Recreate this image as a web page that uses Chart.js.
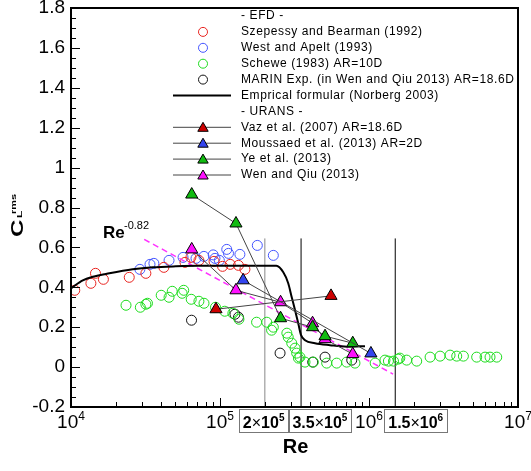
<!DOCTYPE html>
<html>
<head>
<meta charset="utf-8">
<script src="https://cdn.jsdelivr.net/npm/chart.js@4.4.0/dist/chart.umd.min.js"></script>
<style>
  html, body { margin: 0; padding: 0; background: #fff; }
  canvas { display: block; }
</style>
</head>
<body>
<canvas id="cl" width="531" height="471"></canvas>
<script>
// --- EFD ---
const szepessy = [[1.06e4,0.385],[1.36e4,0.42],[1.46e4,0.47],[1.65e4,0.44],[2.46e4,0.45],[3.18e4,0.47],
  [4.2e4,0.50],[5.82e4,0.525],[6.38e4,0.55],[7.22e4,0.535],[9.12e4,0.53],[1.04e5,0.505],[1.17e5,0.515],
  [1.33e5,0.51],[1.47e5,0.49]];
const westApelt = [[2.9e4,0.49],[3.39e4,0.515],[3.6e4,0.52],[4.55e4,0.535],[5.65e4,0.55],[6.9e4,0.545],
  [7.8e4,0.555],[9.0e4,0.5625],[9.25e4,0.545],[9.9e4,0.535],[1.11e5,0.59],[1.14e5,0.57],[1.36e5,0.565],
  [1.78e5,0.61],[2.28e5,0.56]];
const schewe = [[2.34e4,0.31],[2.92e4,0.30],[3.18e4,0.315],[3.26e4,0.32],[4.03e4,0.36],[4.55e4,0.35],
  [4.78e4,0.38],[5.57e4,0.37],[5.71e4,0.385],[6.41e4,0.34],[7.22e4,0.33],[7.81e4,0.32],[9.33e4,0.30],
  [1.076e5,0.28],[1.22e5,0.27],[1.34e5,0.24],[1.76e5,0.225],[2.06e5,0.225],[2.28e5,0.20],[2.22e5,0.185],
  [2.81e5,0.17],[2.87e5,0.15],[3.03e5,0.12],[3.19e5,0.095],[3.27e5,0.07],[3.44e5,0.05],[3.36e5,0.045],
  [3.72e5,0.025],[4.23e5,0.025],[5.2e5,0.02],[6.07e5,0.02],[7.08e5,0.025],[8.05e5,0.02],[1.10e6,0.02],
  [1.28e6,0.035],[1.35e6,0.03],[1.46e6,0.03],[1.57e6,0.04],[1.61e6,0.045],[1.79e6,0.035],[2.09e6,0.03],
  [2.57e6,0.05],[3.0e6,0.055],[3.5e6,0.06],[3.88e6,0.055],[4.3e6,0.055],[5.28e6,0.05],[6.01e6,0.05],
  [6.49e6,0.05],[7.2e6,0.05]];
const marin = [[6.44e4,0.235],[1.26e5,0.265],[1.33e5,0.25],[2.53e5,0.07],[4.19e5,0.025],[5.07e5,0.05],[7.66e5,0.035]];
const norberg = [[1e4,0.395],[1.2e4,0.435],[1.4e4,0.4525],[1.81e4,0.47],[2.59e4,0.49],[3.54e4,0.50],
  [5.06e4,0.505],[7.21e4,0.5075],[1.22e5,0.5075],[2.39e5,0.5075],[2.66e5,0.475],[2.87e5,0.42],[3.03e5,0.35],
  [3.19e5,0.285],[3.35e5,0.22],[3.5e5,0.16],[3.72e5,0.135],[4.34e5,0.12],[5.47e5,0.11],[7.11e5,0.1025],[9.4e5,0.105]];

// --- URANS ---
const vaz = [[9.4e4,0.29],[5.56e5,0.357]];
const moussaed = [[1.43e5,0.435],[1.03e6,0.0685]];
const ye = [[6.46e4,0.865],[1.28e5,0.72],[2.55e5,0.245],[4.18e5,0.20],[5.07e5,0.155],[7.78e5,0.12]];
const wenQiu = [[6.46e4,0.59],[1.28e5,0.385],[2.55e5,0.325],[4.18e5,0.22],[5.07e5,0.14],[7.78e5,0.065]];

// Re^-0.82 guide and the three transition Reynolds numbers
const slopeLine = [[3.1e4,0.64],[1.45e6,-0.035]];
const transitions = [2e5, 3.5e5, 1.5e6];
const transitionTop = 0.645;
const transitionLabels = [['2','5'],['3.5','5'],['1.5','6']];

// axes
const yTicks = [-0.2,0,0.2,0.4,0.6,0.8,1,1.2,1.4,1.6,1.8];
const yTickLabels = ['-0.2','0','0.2','0.4','0.6','0.8','1','1.2','1.4','1.6','1.8'];
const xExponents = [4,5,6,7];

const pts = a => a.map(p => ({x: p[0], y: p[1]}));
const FONT = '"Liberation Sans", Arial, sans-serif';

const circleSet = (label, arr, color) => ({
  label, data: pts(arr), pointStyle: 'circle', pointRadius: 5,
  pointBackgroundColor: 'rgba(0,0,0,0)', pointBorderColor: color, pointBorderWidth: 1,
  borderColor: color, showLine: false, order: 5
});
const triSet = (label, arr, fill) => ({
  label, data: pts(arr), pointStyle: 'triangle', pointRadius: 7,
  pointBackgroundColor: fill, pointBorderColor: '#000', pointBorderWidth: 1,
  borderColor: '#444', borderWidth: 1, showLine: true, order: 1
});
const lineSet = (label, arr, color, width, extra) => Object.assign({
  label, data: pts(arr), showLine: true, pointRadius: 0, borderColor: color,
  borderWidth: width, order: 3
}, extra || {});

const datasets = [
  circleSet('Szepessy and Bearman (1992)', szepessy, '#e8231f'),
  circleSet('West and Apelt (1993)', westApelt, '#4455ff'),
  circleSet('Schewe (1983) AR=10D', schewe, '#1edc1e'),
  circleSet('MARIN Exp. (in Wen and Qiu 2013) AR=18.6D', marin, '#111'),
  lineSet('Emprical formular (Norberg 2003)', norberg, '#000', 2, {cubicInterpolationMode: 'monotone'}),
  triSet('Vaz et al. (2007) AR=18.6D', vaz, '#cc0000'),
  triSet('Moussaed et al. (2013) AR=2D', moussaed, '#3344ee'),
  triSet('Ye et al. (2013)', ye, '#11bb11'),
  triSet('Wen and Qiu (2013)', wenQiu, '#ff11ff'),
  lineSet('Re^-0.82', slopeLine, '#ff33ff', 1.5, {borderDash: [6, 4], order: 4})
];
transitions.forEach((re, i) => {
  datasets.push(lineSet('Re=' + re, [[re, -0.2], [re, transitionTop]], i === 0 ? '#888' : '#000', 1, {order: 6}));
});

// legend rows: headers, then dataset indices
const legendRows = ['- EFD -', 0, 1, 2, 3, 4, '- URANS -', 5, 6, 7, 8];

function triangle(ctx, x, y, r) {
  ctx.beginPath();
  for (let k = 0; k < 3; k++) {
    const a = k * 2 * Math.PI / 3;
    const px = x + Math.sin(a) * r, py = y - Math.cos(a) * r;
    k ? ctx.lineTo(px, py) : ctx.moveTo(px, py);
  }
  ctx.closePath();
}

// draws "m×10^e" (or "10^e" when m is empty) starting at x
function sci(ctx, mant, exp, x, base, size, bold) {
  const w = bold ? 'bold ' : '';
  ctx.textAlign = 'left';
  ctx.textBaseline = 'alphabetic';
  if (mant) {
    ctx.font = w + size + 'px ' + FONT;
    ctx.fillText(mant, x, base); x += ctx.measureText(mant).width;
    ctx.font = size + 'px ' + FONT;
    ctx.fillText('\u00d7', x, base); x += ctx.measureText('\u00d7').width;
  }
  ctx.font = w + size + 'px ' + FONT;
  ctx.fillText('10', x, base); x += ctx.measureText('10').width;
  ctx.font = w + Math.round(size * 0.62) + 'px ' + FONT;
  ctx.fillText(exp, x, base - size * 0.42);
  return x + ctx.measureText(exp).width;
}
function sciWidth(ctx, mant, exp, size, bold) {
  ctx.save(); ctx.globalAlpha = 0;
  const w = sci(ctx, mant, exp, 0, 0, size, bold);
  ctx.restore();
  return w;
}

const decorations = {
  id: 'decorations',
  afterDraw(chart) {
    const {ctx, chartArea: a, scales: {x, y}} = chart;
    ctx.save();
    ctx.fillStyle = '#000';
    ctx.strokeStyle = '#000';

    // frame
    ctx.lineWidth = 2;
    ctx.strokeRect(a.left, a.top, a.right - a.left, a.bottom - a.top);

    // inward ticks
    ctx.lineWidth = 1;
    ctx.beginPath();
    for (let i = 0; i <= 40; i++) {
      const py = Math.round(y.getPixelForValue(-0.2 + i * 0.05)) + 0.5;
      ctx.moveTo(a.left, py); ctx.lineTo(a.left + (i % 4 ? 5 : 9), py);
    }
    for (let e = 4; e < 7; e++) {
      for (let m = 1; m <= 9; m++) {
        const px = Math.round(x.getPixelForValue(m * Math.pow(10, e))) + 0.5;
        ctx.moveTo(px, a.bottom); ctx.lineTo(px, a.bottom - (m === 1 ? 9 : 5));
      }
    }
    ctx.stroke();

    // tick labels
    ctx.font = '19px ' + FONT;
    ctx.textAlign = 'right';
    ctx.textBaseline = 'middle';
    yTicks.forEach((v, i) => ctx.fillText(yTickLabels[i], a.left - 6, y.getPixelForValue(v)));
    xExponents.forEach(e => {
      const px = x.getPixelForValue(Math.pow(10, e));
      const w = sciWidth(ctx, '', String(e), 19, false);
      sci(ctx, '', String(e), px - w / 2, a.bottom + 21, 19, false);
    });

    // transition Re boxes under the axis
    const boxTop = a.bottom + 2, boxH = 23;
    const boxW = transitionLabels.map(t => sciWidth(ctx, t[0], t[1], 16, true) + 8);
    const lefts = [];
    lefts[0] = x.getPixelForValue(transitions[0]) - 26;
    lefts[1] = lefts[0] + boxW[0];
    lefts[2] = x.getPixelForValue(transitions[2]) - 11;
    ctx.strokeStyle = '#777';
    transitionLabels.forEach((t, i) => {
      ctx.strokeRect(Math.round(lefts[i]) + 0.5, boxTop + 0.5, Math.round(boxW[i]), boxH);
      ctx.fillStyle = '#000';
      sci(ctx, t[0], t[1], lefts[i] + 4, boxTop + 19, 16, true);
    });

    // axis titles
    ctx.fillStyle = '#000';
    ctx.font = 'bold 20px ' + FONT;
    ctx.textAlign = 'center';
    ctx.textBaseline = 'alphabetic';
    ctx.fillText('Re', (a.left + a.right) / 2 + 1, 453);

    ctx.save();
    ctx.translate(23, 237);
    ctx.rotate(-Math.PI / 2);
    ctx.scale(1, 0.65);
    ctx.textAlign = 'left';
    ctx.font = 'bold 24px ' + FONT;
    ctx.fillText('C', 0, 0);
    ctx.font = 'bold 12px ' + FONT;
    ctx.fillText('L', 19, -2);
    ctx.font = 'bold 11px ' + FONT;
    ctx.fillText('rms', 23, -11);
    ctx.restore();

    // Re^-0.82 note
    ctx.textAlign = 'left';
    ctx.font = 'bold 17px ' + FONT;
    ctx.fillText('Re', 103, 238);
    ctx.font = '11px ' + FONT;
    ctx.fillText('-0.82', 124, 229);

    // legend
    ctx.font = '12px ' + FONT;
    ctx.letterSpacing = '0.6px';
    ctx.textBaseline = 'middle';
    legendRows.forEach((row, i) => {
      const ly = 16 + i * 15.9;
      if (typeof row === 'string') { ctx.fillStyle = '#000'; ctx.fillText(row, 241, ly); return; }
      const ds = chart.data.datasets[row];
      if (ds.pointStyle === 'circle') {
        ctx.strokeStyle = ds.pointBorderColor; ctx.lineWidth = 1;
        ctx.beginPath(); ctx.arc(203, ly, 4.5, 0, 2 * Math.PI); ctx.stroke();
      } else {
        ctx.strokeStyle = ds.borderColor; ctx.lineWidth = ds.borderWidth;
        ctx.beginPath(); ctx.moveTo(173, ly); ctx.lineTo(231, ly); ctx.stroke();
        if (ds.pointStyle === 'triangle') {
          triangle(ctx, 203, ly + 1, 6);
          ctx.fillStyle = ds.pointBackgroundColor; ctx.fill();
          ctx.strokeStyle = '#000'; ctx.stroke();
        }
      }
      ctx.fillStyle = '#000';
      ctx.fillText(ds.label, 241, ly);
    });
    ctx.restore();
  }
};

new Chart(document.getElementById('cl'), {
  type: 'scatter',
  data: { datasets },
  options: {
    responsive: false,
    animation: false,
    events: [],
    layout: { padding: { left: 71, right: 13, top: 7, bottom: 64 } },
    plugins: { legend: { display: false }, tooltip: { enabled: false } },
    scales: {
      x: { type: 'logarithmic', min: 1e4, max: 1e7, display: false },
      y: { type: 'linear', min: -0.2, max: 1.8, display: false }
    }
  },
  plugins: [decorations]
});
</script>
</body>
</html>
